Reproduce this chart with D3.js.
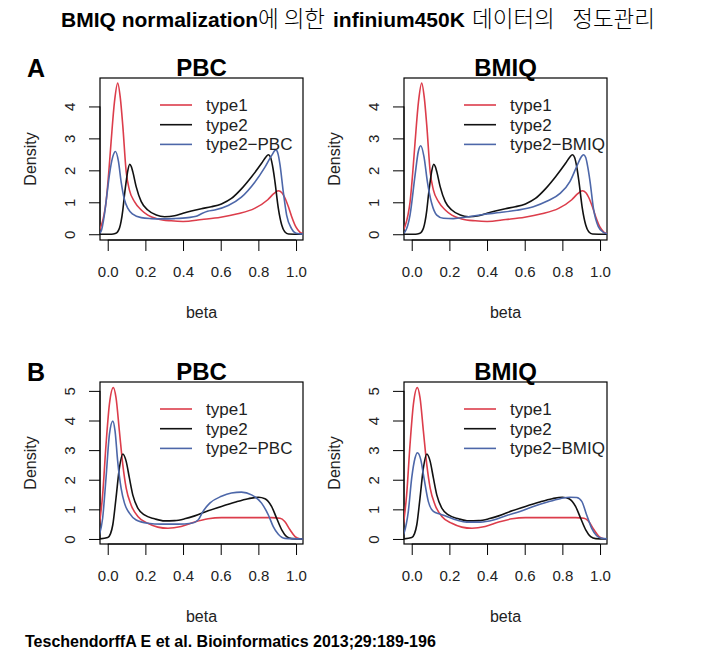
<!DOCTYPE html>
<html><head><meta charset="utf-8">
<script src="https://cdn.jsdelivr.net/npm/d3@7"></script>
<style>body{margin:0;background:#fff}svg{display:block}</style>
</head><body>
<svg id="c" width="715" height="661"></svg>
<script>
// ---------- data ----------
const betaTicks = [0, 0.2, 0.4, 0.6, 0.8, 1.0];
const densityTicksA = [0, 1, 2, 3, 4];
const densityTicksB = [0, 1, 2, 3, 4, 5];
const legendA_PBC = ["type1", "type2", "type2\u2212PBC"];
const legendA_BMIQ = ["type1", "type2", "type2\u2212BMIQ"];

// [beta, density]
const type1A = [[-0.045,0.12],[-0.036,0.24],[-0.02,0.6],[-0.009,1.0],[0.005,1.9],[0.018,2.9],[0.036,4.15],[0.053,4.73],[0.067,4.26],[0.08,3.4],[0.098,1.96],[0.115,1.39],[0.142,1.02],[0.178,0.76],[0.213,0.6],[0.266,0.48],[0.337,0.42],[0.4,0.4],[0.5,0.46],[0.6,0.53],[0.69,0.64],[0.78,0.81],[0.85,1.08],[0.88,1.26],[0.906,1.36],[0.925,1.3],[0.94,1.15],[0.96,0.85],[0.977,0.55],[1.0,0.22],[1.02,0.07],[1.045,0.01]];
const type2A = [[-0.045,0],[0.02,0],[0.04,0.02],[0.053,0.08],[0.063,0.2],[0.071,0.4],[0.08,0.75],[0.089,1.23],[0.098,1.65],[0.107,2.0],[0.117,2.19],[0.125,2.12],[0.133,1.96],[0.151,1.49],[0.178,1.02],[0.213,0.76],[0.258,0.6],[0.302,0.55],[0.355,0.58],[0.4,0.66],[0.444,0.73],[0.497,0.8],[0.55,0.86],[0.604,0.95],[0.657,1.12],[0.71,1.42],[0.764,1.8],[0.817,2.22],[0.84,2.42],[0.853,2.49],[0.865,2.4],[0.878,2.05],[0.888,1.65],[0.906,0.81],[0.924,0.29],[0.94,0.08],[0.96,0.01],[1.045,0]];
const type2PBC_A = [[-0.045,0.03],[-0.036,0.08],[-0.018,0.6],[-0.005,1.2],[0.009,1.86],[0.027,2.43],[0.041,2.59],[0.057,2.28],[0.071,1.65],[0.089,1.08],[0.107,0.81],[0.133,0.63],[0.178,0.52],[0.231,0.49],[0.284,0.48],[0.355,0.49],[0.426,0.52],[0.47,0.56],[0.5,0.65],[0.53,0.72],[0.568,0.76],[0.64,0.9],[0.71,1.16],[0.78,1.62],[0.835,2.1],[0.87,2.46],[0.893,2.64],[0.905,2.5],[0.915,2.17],[0.932,1.34],[0.95,0.6],[0.977,0.17],[1.0,0.03],[1.045,0]];
const type2BMIQ_A = [[-0.045,0.03],[-0.035,0.08],[-0.009,0.6],[0.018,1.86],[0.035,2.59],[0.048,2.77],[0.065,2.43],[0.083,1.65],[0.106,0.97],[0.133,0.6],[0.168,0.5],[0.221,0.49],[0.292,0.54],[0.38,0.62],[0.469,0.68],[0.558,0.75],[0.646,0.86],[0.717,1.03],[0.788,1.28],[0.84,1.65],[0.876,2.12],[0.9,2.42],[0.912,2.49],[0.924,2.4],[0.935,2.1],[0.947,1.65],[0.965,0.81],[0.991,0.24],[1.018,0.06],[1.045,0.01]];

const type1B = [[-0.045,0.45],[-0.027,1.49],[-0.009,3.19],[0.009,4.55],[0.03,5.11],[0.044,4.77],[0.062,3.64],[0.08,2.51],[0.098,1.72],[0.124,1.15],[0.16,0.76],[0.213,0.53],[0.266,0.4],[0.32,0.36],[0.39,0.42],[0.462,0.57],[0.533,0.68],[0.604,0.72],[0.693,0.72],[0.78,0.72],[0.87,0.72],[0.915,0.7],[0.94,0.59],[0.968,0.31],[0.995,0.08],[1.02,0.01],[1.045,0]];
const type2B = [[-0.045,0],[0,0.05],[0.015,0.18],[0.027,0.48],[0.044,1.38],[0.062,2.4],[0.08,2.87],[0.098,2.62],[0.115,2.06],[0.133,1.49],[0.16,1.04],[0.195,0.81],[0.249,0.68],[0.302,0.61],[0.355,0.62],[0.408,0.68],[0.462,0.78],[0.533,0.95],[0.604,1.1],[0.675,1.24],[0.746,1.36],[0.8,1.41],[0.835,1.36],[0.87,1.1],[0.897,0.7],[0.924,0.31],[0.95,0.08],[0.977,0.01],[1.045,0]];
const type2PBC_B = [[-0.045,0.12],[-0.027,0.7],[-0.009,2.06],[0.009,3.53],[0.027,3.98],[0.039,3.64],[0.053,2.62],[0.071,1.72],[0.089,1.21],[0.115,0.87],[0.151,0.64],[0.213,0.53],[0.284,0.5],[0.373,0.5],[0.444,0.53],[0.48,0.64],[0.506,0.93],[0.542,1.21],[0.604,1.44],[0.657,1.55],[0.71,1.58],[0.764,1.49],[0.817,1.21],[0.853,0.81],[0.879,0.42],[0.906,0.16],[0.94,0.02],[1.045,0]];
const type2BMIQ_B = [[-0.045,0.12],[-0.041,0.19],[-0.018,0.93],[0,2.06],[0.018,2.74],[0.03,2.91],[0.048,2.68],[0.065,2.06],[0.088,1.27],[0.115,0.93],[0.15,0.84],[0.186,0.76],[0.239,0.64],[0.292,0.57],[0.363,0.57],[0.434,0.64],[0.504,0.79],[0.575,0.93],[0.646,1.1],[0.717,1.24],[0.788,1.36],[0.84,1.41],[0.876,1.4],[0.903,1.27],[0.929,0.81],[0.956,0.36],[0.982,0.11],[1.01,0.02],[1.045,0]];

// ---------- layout / style ----------
const FONT = "'Liberation Sans', Arial, Helvetica, sans-serif";
const KFONT = "'Noto Sans CJK KR', sans-serif";
const COLORS = ["#dc3d4b", "#111111", "#4d67a9"];
const panels = [
  {box:[100,78,303,240], yDom:[-0.18,4.89], yTicks:densityTicksA, title:"PBC",  letter:"A", series:[type1A,type2A,type2PBC_A], legend:legendA_PBC},
  {box:[404,78,607,240], yDom:[-0.18,4.89], yTicks:densityTicksA, title:"BMIQ", letter:null, series:[type1A,type2A,type2BMIQ_A], legend:legendA_BMIQ},
  {box:[100,382,303,544], yDom:[-0.17,5.3], yTicks:densityTicksB, title:"PBC",  letter:"B", series:[type1B,type2B,type2PBC_B], legend:legendA_PBC},
  {box:[404,382,607,544], yDom:[-0.17,5.3], yTicks:densityTicksB, title:"BMIQ", letter:null, series:[type1B,type2B,type2BMIQ_B], legend:legendA_BMIQ}
];

const svg = d3.select("#c");
svg.append("rect").attr("width",715).attr("height",661).attr("fill","#fff");

// main title
const titleY = 27;
svg.append("text").attr("x",61).attr("y",titleY).attr("font-size",21).attr("font-family",FONT)
  .attr("font-weight","bold").text("BMIQ normalization");
svg.append("text").attr("x",258).attr("y",titleY).attr("font-size",22.5).attr("font-family",KFONT)
  .attr("font-weight",300).text("에 의한");
svg.append("text").attr("x",333).attr("y",titleY).attr("font-size",21).attr("font-family",FONT)
  .attr("font-weight","bold").text("infinium450K");
svg.append("text").attr("x",472).attr("y",titleY).attr("font-size",22.5).attr("font-family",KFONT)
  .attr("font-weight",300).text("데이터의");
svg.append("text").attr("x",655).attr("y",titleY).attr("text-anchor","end").attr("font-size",22.5)
  .attr("font-family",KFONT).attr("font-weight",300).text("정도관리");

// citation
svg.append("text").attr("x",25).attr("y",647).attr("font-family",FONT).attr("font-weight","bold")
  .attr("font-size",16).text("TeschendorffA E et al. Bioinformatics 2013;29:189-196");

const defs = svg.append("defs");
panels.forEach((p,i)=>{
  const [x0,y0,x1,y1] = p.box;
  const x = d3.scaleLinear().domain([-0.041,1.037]).range([x0,x1]);
  const y = d3.scaleLinear().domain(p.yDom).range([y1,y0]);
  const g = svg.append("g").attr("font-family",FONT);

  defs.append("clipPath").attr("id","clip"+i).append("rect")
    .attr("x",x0).attr("y",y0).attr("width",x1-x0).attr("height",y1-y0);

  // x axis
  const xa = g.append("g").attr("transform",`translate(0,${y1})`)
    .call(d3.axisBottom(x).tickValues(betaTicks).tickFormat(d3.format(".1f")).tickSize(11).tickSizeOuter(0).tickPadding(15.5));
  xa.select(".domain").attr("d",`M${x(0)},0H${x(1)}`).attr("stroke","#000");
  xa.selectAll(".tick line").attr("stroke","#000");
  xa.selectAll("text").attr("font-size",15).attr("fill","#222").attr("font-family",FONT);

  // y axis
  const ya = g.append("g").attr("transform",`translate(${x0},0)`)
    .call(d3.axisLeft(y).tickValues(p.yTicks).tickFormat(d3.format("d")).tickSize(11).tickSizeOuter(0));
  ya.select(".domain").attr("d",`M0,${y(p.yTicks[0])}V${y(p.yTicks[p.yTicks.length-1])}`).attr("stroke","#000");
  ya.selectAll(".tick line").attr("stroke","#000");
  ya.selectAll("text").attr("font-size",15).attr("fill","#222").attr("font-family",FONT)
    .attr("x",null).attr("dy","0.35em").attr("text-anchor","middle")
    .attr("transform","translate(-30,0) rotate(-90)");

  // box
  g.append("rect").attr("x",x0).attr("y",y0).attr("width",x1-x0).attr("height",y1-y0)
    .attr("fill","none").attr("stroke","#000").attr("stroke-width",1.2);

  // curves
  const line = d3.line().x(d=>x(d[0])).y(d=>y(d[1])).curve(d3.curveMonotoneX);
  const cg = g.append("g").attr("clip-path",`url(#clip${i})`);
  p.series.forEach((s,k)=>{
    cg.append("path").attr("d",line(s)).attr("fill","none").attr("stroke",COLORS[k]).attr("stroke-width",1.6);
  });

  // legend
  p.legend.forEach((name,k)=>{
    const ly = y0 + 27 + k*19.7;
    g.append("line").attr("x1",x0+60).attr("x2",x0+92).attr("y1",ly).attr("y2",ly)
      .attr("stroke",COLORS[k]).attr("stroke-width",1.6);
    g.append("text").attr("x",x0+106).attr("y",ly).attr("dy","0.35em").attr("font-size",17)
      .attr("fill","#222").text(name);
  });

  // titles
  g.append("text").attr("x",(x0+x1)/2).attr("y",y0-2).attr("text-anchor","middle")
    .attr("font-weight","bold").attr("font-size",24).text(p.title);
  if (p.letter) g.append("text").attr("x",27).attr("y",y0-1).attr("font-weight","bold")
    .attr("font-size",25).text(p.letter);

  // axis titles
  g.append("text").attr("x",(x0+x1)/2).attr("y",y1+78).attr("text-anchor","middle")
    .attr("font-size",16).attr("fill","#222").text("beta");
  g.append("text").attr("transform",`translate(${x0-70},${(y0+y1)/2}) rotate(-90)`)
    .attr("dy","0.35em").attr("text-anchor","middle").attr("font-size",16).attr("fill","#222").text("Density");
});
</script>
</body></html>
